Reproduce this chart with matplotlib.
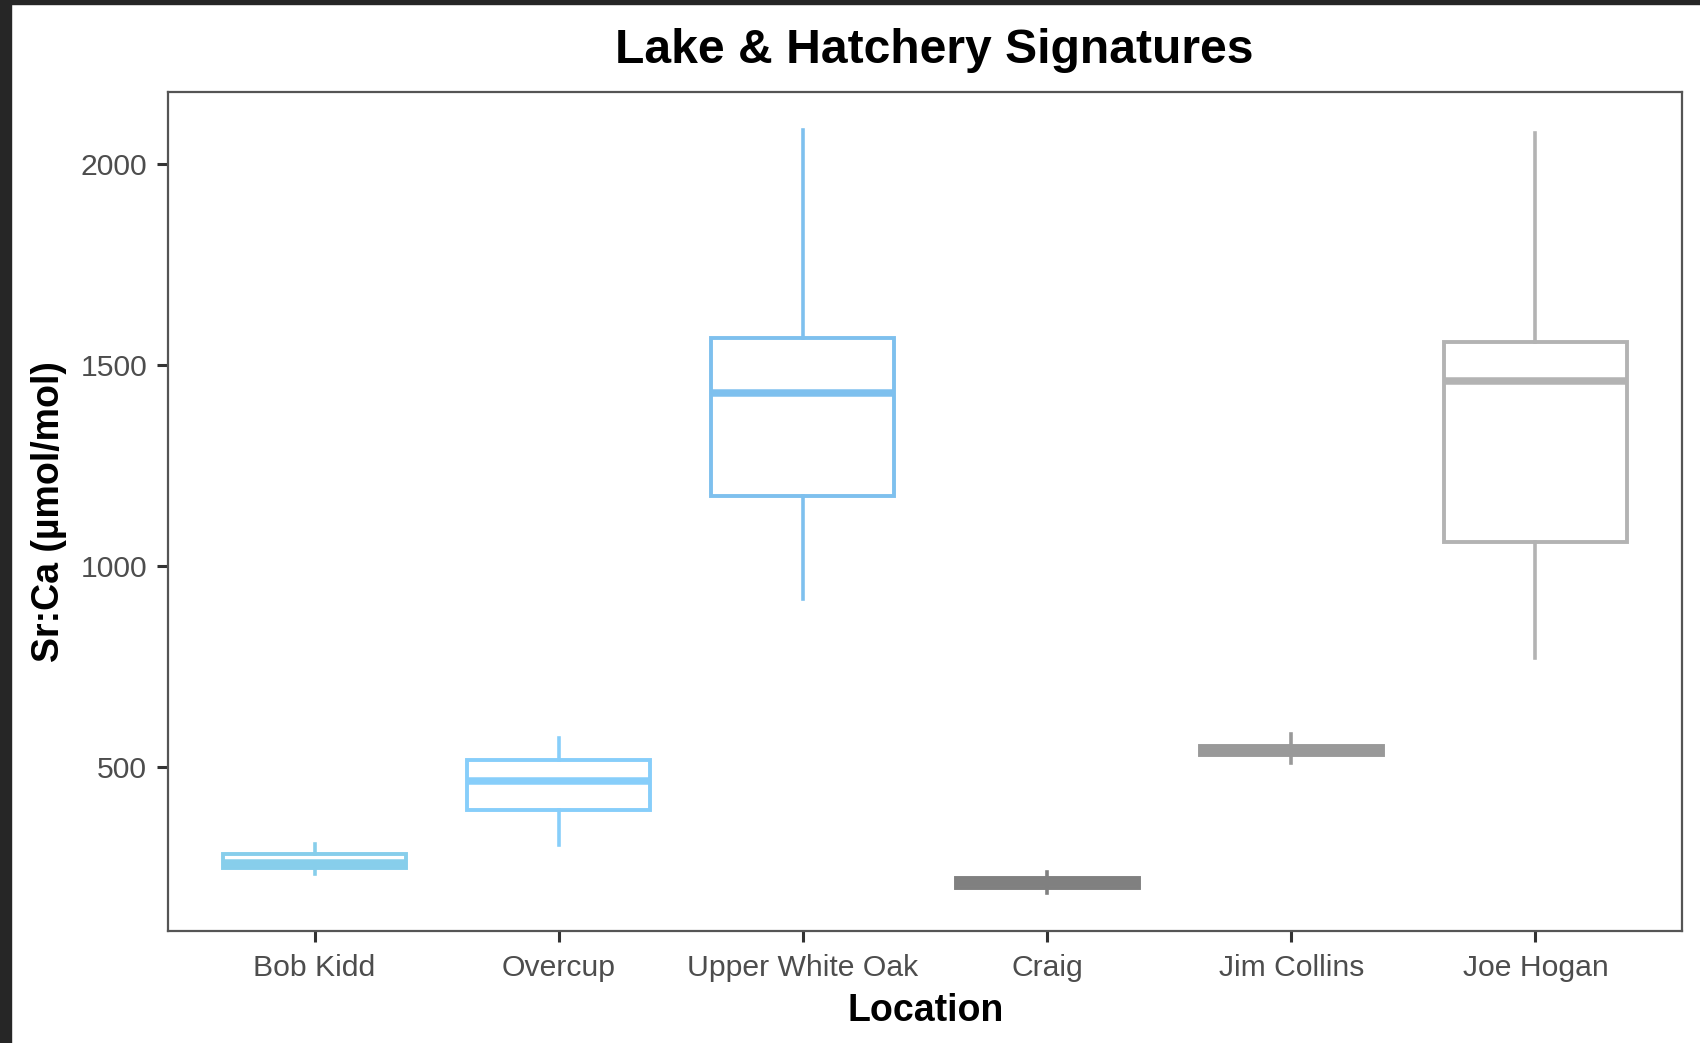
import matplotlib.pyplot as plt
from matplotlib.patches import Rectangle

# 箱ひげ図のデータ (µmol/mol)
LOCATIONS = ['Bob Kidd', 'Overcup', 'Upper White Oak', 'Craig', 'Jim Collins', 'Joe Hogan']
WHISKER_LOW = [235, 308, 918, 188, 512, 772]
Q1 = [251, 393, 1174, 201, 530, 1060]
MEDIAN = [262, 465, 1431, 213, 540, 1462]
Q3 = [285, 519, 1568, 226, 553, 1558]
WHISKER_HIGH = [310, 573, 2085, 239, 583, 2077]

COLORS = ['#87CEEB', '#87CEFA', '#7EC0EE', '#808080', '#999999', '#B3B3B3']
Y_TICKS = [500, 1000, 1500, 2000]

FONT = 'Liberation Sans'
TEXT_GRAY = '#4D4D4D'


def visualize():
    fig = plt.figure(figsize=(17, 10.43), dpi=100)
    ax = fig.add_axes([168 / 1700, 1 - 931 / 1043, 1514 / 1700, 839 / 1043])

    # 箱ひげ図の統計量を組み立てる
    stats = []
    for i, name in enumerate(LOCATIONS):
        stats.append({'label': name, 'whislo': WHISKER_LOW[i], 'q1': Q1[i],
                      'med': MEDIAN[i], 'q3': Q3[i], 'whishi': WHISKER_HIGH[i],
                      'fliers': []})

    for i, s in enumerate(stats):
        c = COLORS[i]
        ax.bxp([s], positions=[i], widths=0.75, showcaps=False, showfliers=False,
               patch_artist=True, manage_ticks=False,
               boxprops=dict(facecolor='white', edgecolor=c, linewidth=2.8),
               medianprops=dict(color=c, linewidth=5.4, solid_capstyle='butt'),
               whiskerprops=dict(color=c, linewidth=2.6))

    # ggplot風の余白
    lo, hi = min(WHISKER_LOW), max(WHISKER_HIGH)
    pad = (hi - lo) * 0.05
    ax.set_ylim(lo - pad, hi + pad)
    ax.set_xlim(-0.6, len(LOCATIONS) - 1 + 0.6)

    ax.set_xticks(range(len(LOCATIONS)))
    ax.set_xticklabels(LOCATIONS)
    ax.set_yticks(Y_TICKS)
    ax.tick_params(axis='both', length=8, width=2.2, color='#333333',
                   labelsize=21.7, labelcolor=TEXT_GRAY)
    ax.tick_params(axis='x', pad=8.5)
    ax.tick_params(axis='y', pad=7)
    for lab in ax.get_xticklabels() + ax.get_yticklabels():
        lab.set_family(FONT)

    for sp in ax.spines.values():
        sp.set_color('#555555')
        sp.set_linewidth(1.6)

    fig.text(934 / 1700, 1 - 63 / 1043, 'Lake & Hatchery Signatures', ha='center',
             va='baseline', fontsize=34.6, fontweight='bold', family=FONT)
    fig.text(926 / 1700, 1 - 1021 / 1043, 'Location', ha='center', va='baseline',
             fontsize=27, fontweight='bold', family=FONT)
    fig.text(49 / 1700, 1 - 512 / 1043, 'Sr:Ca (µmol/mol)', ha='center', va='center',
             rotation=90, fontsize=27, fontweight='bold', family=FONT)

    # スクリーンショットの黒い縁
    fig.patches.append(Rectangle((0, 0), 11 / 1700, 1, transform=fig.transFigure,
                                 color='#262626', zorder=10))
    fig.patches.append(Rectangle((0, 1 - 4 / 1043), 1, 4 / 1043, transform=fig.transFigure,
                                 color='#262626', zorder=10))

    fig.savefig('out.png', dpi=100)


if __name__ == '__main__':
    visualize()
